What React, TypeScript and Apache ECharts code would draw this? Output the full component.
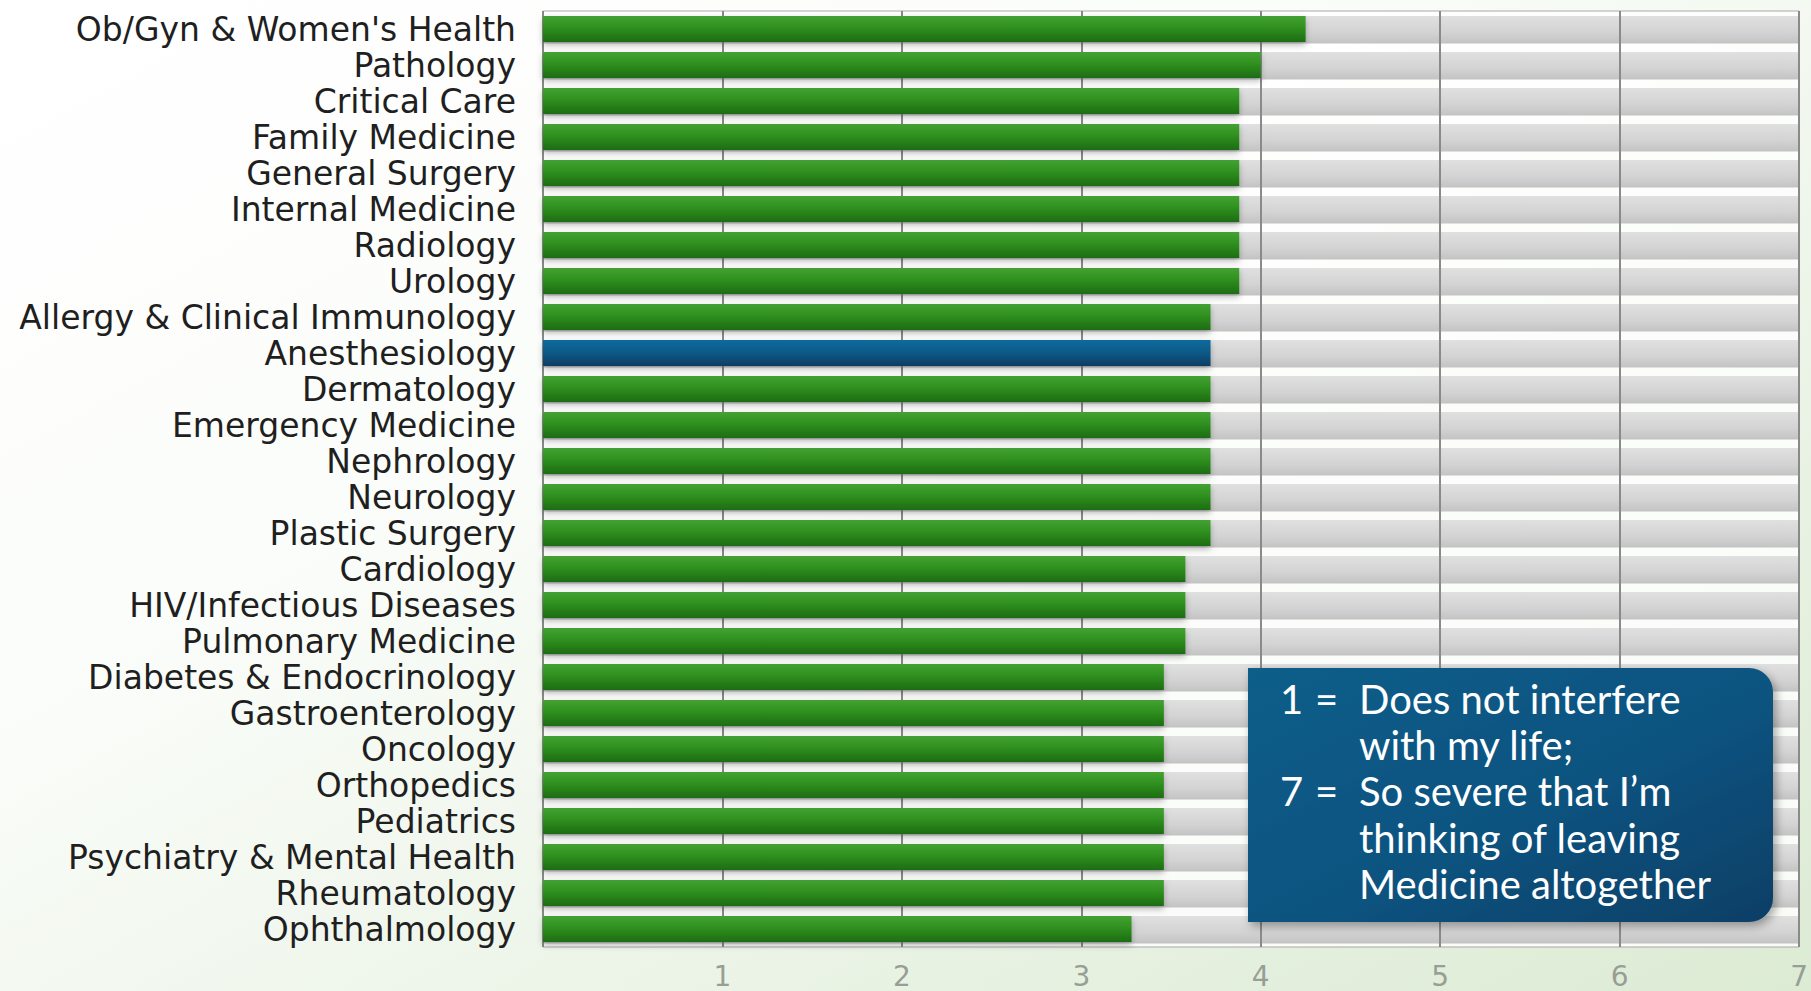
import React, { useEffect, useRef } from "react";
import * as echarts from "echarts";

const categories = [
  "Ob/Gyn & Women's Health",
  "Pathology",
  "Critical Care",
  "Family Medicine",
  "General Surgery",
  "Internal Medicine",
  "Radiology",
  "Urology",
  "Allergy & Clinical Immunology",
  "Anesthesiology",
  "Dermatology",
  "Emergency Medicine",
  "Nephrology",
  "Neurology",
  "Plastic Surgery",
  "Cardiology",
  "HIV/Infectious Diseases",
  "Pulmonary Medicine",
  "Diabetes & Endocrinology",
  "Gastroenterology",
  "Oncology",
  "Orthopedics",
  "Pediatrics",
  "Psychiatry & Mental Health",
  "Rheumatology",
  "Ophthalmology",
];

const values = [
  4.25, 4.0, 3.88, 3.88, 3.88, 3.88, 3.88, 3.88, 3.72, 3.72, 3.72, 3.72, 3.72,
  3.72, 3.72, 3.58, 3.58, 3.58, 3.46, 3.46, 3.46, 3.46, 3.46, 3.46, 3.46, 3.28,
];

const highlighted = "Anesthesiology";
const axisMin = 0;
const axisMax = 7;
const axisInterval = 1;

const legendKeys = ["1", "7"];
const legendLines = [
  "Does not interfere",
  "with my life;",
  "So severe that I\u2019m",
  "thinking of leaving",
  "Medicine altogether",
];

const greenGrad = () =>
  new echarts.graphic.LinearGradient(0, 0, 0, 1, [
    { offset: 0, color: "#43a232" },
    { offset: 0.45, color: "#2f901f" },
    { offset: 1, color: "#1d6c12" },
  ]);
const blueGrad = () =>
  new echarts.graphic.LinearGradient(0, 0, 0, 1, [
    { offset: 0, color: "#0b6c9e" },
    { offset: 0.5, color: "#095886" },
    { offset: 1, color: "#083d63" },
  ]);

export default function App() {
  const ref = useRef<HTMLDivElement>(null);

  useEffect(() => {
    if (!ref.current) return;
    const chart = echarts.init(ref.current, null, { renderer: "svg" });

    const barData = values.map((v, i) => ({
      value: v,
      itemStyle: {
        color: categories[i] === highlighted ? blueGrad() : greenGrad(),
      },
    }));
    const bgData = categories.map(() => axisMax);

    const kx = 1280;
    const ex = 1315;
    const bx = 1359;
    const y0 = 699;
    const pitch = 46.2;
    const font = "40px Lato";

    const txt = (x: number, y: number, text: string) => ({
      type: "text",
      z: 11,
      style: { x, y, text, fill: "#ffffff", font, verticalAlign: "middle" },
    });

    chart.setOption({
      animation: false,
      backgroundColor: new echarts.graphic.LinearGradient(0, 0, 1, 1, [
        { offset: 0, color: "#ffffff" },
        { offset: 0.35, color: "#fbfdfa" },
        { offset: 1, color: "#dcebd4" },
      ]),
      grid: {
        left: 543,
        right: 6,
        top: 11,
        bottom: 44,
        show: true,
        backgroundColor: "rgba(255,255,255,0.8)",
        borderColor: "#a8a8a8",
        borderWidth: 1,
      },
      xAxis: {
        type: "value",
        min: axisMin,
        max: axisMax,
        interval: axisInterval,
        z: 2,
        axisLine: { show: false },
        axisTick: { show: false },
        splitLine: { show: true, lineStyle: { color: "#8a8a8a", width: 2 } },
        axisLabel: {
          showMinLabel: false,
          color: "#979f95",
          fontFamily: "DejaVu Sans",
          fontSize: 28,
          lineHeight: 28,
          margin: 15,
        },
      },
      yAxis: {
        type: "category",
        data: categories,
        inverse: true,
        axisLine: { show: false },
        axisTick: { show: false },
        splitLine: { show: false },
        axisLabel: {
          interval: 0,
          color: "#1f1f1f",
          fontFamily: "DejaVu Sans",
          fontSize: 33,
          lineHeight: 34,
          margin: 27,
        },
      },
      series: [
        {
          type: "bar",
          data: bgData,
          z: 1,
          barWidth: "76%",
          silent: true,
          itemStyle: {
            color: new echarts.graphic.LinearGradient(0, 0, 0, 1, [
              { offset: 0, color: "#e0e0e0" },
              { offset: 0.6, color: "#d3d3d3" },
              { offset: 1, color: "#c3c3c3" },
            ]),
          },
        },
        {
          type: "bar",
          data: barData,
          z: 3,
          barWidth: "72%",
          barGap: "-100%",
          itemStyle: {
            shadowBlur: 6,
            shadowOffsetY: 3,
            shadowColor: "rgba(0,0,0,0.28)",
          },
        },
      ],
      graphic: [
        {
          type: "rect",
          z: 10,
          shape: { x: 1248, y: 668, width: 525, height: 254, r: [0, 24, 24, 0] },
          style: {
            fill: new echarts.graphic.LinearGradient(0, 0, 1, 1, [
              { offset: 0, color: "#0e5e8a" },
              { offset: 0.55, color: "#0b5380" },
              { offset: 1, color: "#083f66" },
            ]),
            shadowBlur: 10,
            shadowOffsetX: 3,
            shadowOffsetY: 4,
            shadowColor: "rgba(0,0,0,0.35)",
          },
        },
        txt(kx, y0, legendKeys[0]),
        txt(ex, y0, "="),
        txt(kx, y0 + pitch * 2, legendKeys[1]),
        txt(ex, y0 + pitch * 2, "="),
        ...legendLines.map((t, i) => txt(bx, y0 + pitch * i, t)),
      ],
    });

    return () => chart.dispose();
  }, []);

  return (
    <div
      ref={ref}
      style={{ position: "absolute", left: 0, top: 0, width: 1811, height: 991 }}
    />
  );
}
